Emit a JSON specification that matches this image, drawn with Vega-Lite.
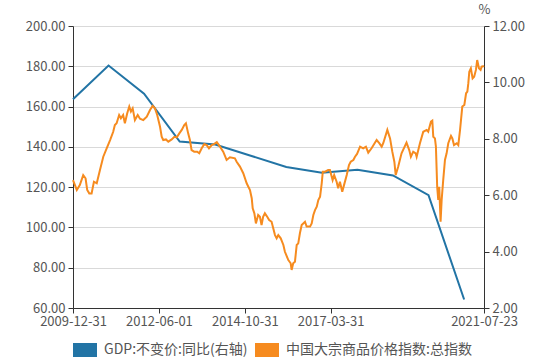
{
  "$schema": "https://vega.github.io/schema/vega-lite/v6.json",
  "width": 411,
  "height": 282,
  "autosize": {"type": "none"},
  "padding": {"left": 73, "top": 26, "right": 70, "bottom": 51},
  "background": "white",
  "config": {
    "view": {"stroke": null},
    "font": "Noto Sans CJK SC",
    "axis": {
      "labelFont": "Noto Sans CJK SC",
      "labelFontSize": 13,
      "labelColor": "#555555",
      "domainColor": "#333333",
      "tickColor": "#333333",
      "gridColor": "#d9d9d9",
      "tickSize": 5,
      "labelPadding": 3
    },
    "legend": {
      "labelFont": "Noto Sans CJK SC",
      "labelFontSize": 14,
      "labelColor": "#555555",
      "labelLimit": 400
    }
  },
  "datasets": {
    "gdp": [
      {"date": "2009-12-31", "gdp": 9.4},
      {"date": "2010-12-31", "gdp": 10.6},
      {"date": "2011-12-31", "gdp": 9.6},
      {"date": "2012-12-31", "gdp": 7.9},
      {"date": "2013-12-31", "gdp": 7.8},
      {"date": "2014-12-31", "gdp": 7.4},
      {"date": "2015-12-31", "gdp": 7.0},
      {"date": "2016-12-31", "gdp": 6.8},
      {"date": "2017-12-31", "gdp": 6.9},
      {"date": "2018-12-31", "gdp": 6.7},
      {"date": "2019-12-31", "gdp": 6.0},
      {"date": "2020-12-31", "gdp": 2.3}
    ],
    "cci": [
      {"date":"2009-12-31","v":123.5},
      {"date":"2010-02-08","v":118.6},
      {"date":"2010-03-11","v":121.0},
      {"date":"2010-04-15","v":126.0},
      {"date":"2010-05-09","v":124.4},
      {"date":"2010-05-26","v":118.6},
      {"date":"2010-06-16","v":116.9},
      {"date":"2010-07-10","v":116.9},
      {"date":"2010-08-03","v":122.7},
      {"date":"2010-09-01","v":121.9},
      {"date":"2010-10-04","v":128.5},
      {"date":"2010-11-07","v":135.1},
      {"date":"2010-12-12","v":139.3},
      {"date":"2011-01-16","v":143.4},
      {"date":"2011-02-17","v":147.5},
      {"date":"2011-03-06","v":150.8},
      {"date":"2011-03-24","v":151.7},
      {"date":"2011-04-19","v":155.8},
      {"date":"2011-05-07","v":154.2},
      {"date":"2011-05-30","v":155.8},
      {"date":"2011-06-17","v":151.7},
      {"date":"2011-07-11","v":156.7},
      {"date":"2011-08-01","v":160.0},
      {"date":"2011-08-18","v":157.5},
      {"date":"2011-09-05","v":159.1},
      {"date":"2011-09-28","v":153.3},
      {"date":"2011-10-27","v":155.8},
      {"date":"2011-11-19","v":154.0},
      {"date":"2011-12-23","v":153.3},
      {"date":"2012-01-28","v":155.0},
      {"date":"2012-03-01","v":158.3},
      {"date":"2012-03-28","v":160.3},
      {"date":"2012-04-21","v":159.1},
      {"date":"2012-05-14","v":155.8},
      {"date":"2012-06-12","v":150.0},
      {"date":"2012-06-29","v":145.0},
      {"date":"2012-07-15","v":143.4},
      {"date":"2012-08-12","v":143.7},
      {"date":"2012-09-05","v":142.6},
      {"date":"2012-10-10","v":143.7},
      {"date":"2012-11-06","v":145.0},
      {"date":"2012-12-01","v":144.7},
      {"date":"2012-12-27","v":146.7},
      {"date":"2013-01-21","v":148.4},
      {"date":"2013-02-16","v":150.8},
      {"date":"2013-03-05","v":151.7},
      {"date":"2013-03-28","v":146.7},
      {"date":"2013-04-15","v":143.4},
      {"date":"2013-05-02","v":138.4},
      {"date":"2013-05-29","v":137.6},
      {"date":"2013-06-29","v":137.6},
      {"date":"2013-07-20","v":136.8},
      {"date":"2013-08-14","v":139.3},
      {"date":"2013-09-10","v":141.4},
      {"date":"2013-10-04","v":140.9},
      {"date":"2013-10-28","v":139.3},
      {"date":"2013-11-25","v":140.9},
      {"date":"2013-12-18","v":141.4},
      {"date":"2014-01-16","v":142.3},
      {"date":"2014-02-18","v":140.1},
      {"date":"2014-03-23","v":137.6},
      {"date":"2014-04-27","v":133.5},
      {"date":"2014-05-31","v":134.8},
      {"date":"2014-07-21","v":134.3},
      {"date":"2014-08-08","v":132.6},
      {"date":"2014-09-11","v":130.2},
      {"date":"2014-10-15","v":126.9},
      {"date":"2014-11-19","v":121.9},
      {"date":"2014-12-23","v":118.6},
      {"date":"2015-01-10","v":114.5},
      {"date":"2015-01-20","v":109.5},
      {"date":"2015-02-06","v":107.0},
      {"date":"2015-02-22","v":102.0},
      {"date":"2015-03-17","v":106.2},
      {"date":"2015-04-04","v":105.3},
      {"date":"2015-04-21","v":101.2},
      {"date":"2015-05-07","v":105.3},
      {"date":"2015-05-25","v":107.0},
      {"date":"2015-06-18","v":105.3},
      {"date":"2015-07-08","v":103.7},
      {"date":"2015-08-02","v":102.8},
      {"date":"2015-09-06","v":96.2},
      {"date":"2015-09-23","v":94.6},
      {"date":"2015-10-10","v":96.2},
      {"date":"2015-11-04","v":94.6},
      {"date":"2015-12-01","v":91.3},
      {"date":"2015-12-17","v":87.9},
      {"date":"2016-01-21","v":83.8},
      {"date":"2016-02-14","v":82.2},
      {"date":"2016-02-24","v":78.9},
      {"date":"2016-03-11","v":82.2},
      {"date":"2016-03-29","v":83.0},
      {"date":"2016-04-16","v":91.3},
      {"date":"2016-05-02","v":92.1},
      {"date":"2016-05-19","v":97.1},
      {"date":"2016-06-06","v":101.2},
      {"date":"2016-07-10","v":102.8},
      {"date":"2016-07-27","v":100.4},
      {"date":"2016-08-31","v":100.4},
      {"date":"2016-09-17","v":102.0},
      {"date":"2016-10-04","v":106.2},
      {"date":"2016-10-21","v":108.6},
      {"date":"2016-11-08","v":110.3},
      {"date":"2016-11-24","v":113.6},
      {"date":"2016-12-12","v":115.3},
      {"date":"2016-12-29","v":121.9},
      {"date":"2017-01-09","v":127.7},
      {"date":"2017-02-02","v":127.7},
      {"date":"2017-03-05","v":128.5},
      {"date":"2017-03-23","v":128.5},
      {"date":"2017-04-20","v":123.5},
      {"date":"2017-05-06","v":126.0},
      {"date":"2017-05-31","v":122.7},
      {"date":"2017-06-16","v":119.4},
      {"date":"2017-07-04","v":122.7},
      {"date":"2017-07-28","v":117.7},
      {"date":"2017-08-15","v":121.0},
      {"date":"2017-09-12","v":126.0},
      {"date":"2017-10-05","v":131.0},
      {"date":"2017-10-23","v":132.6},
      {"date":"2017-11-19","v":133.5},
      {"date":"2017-12-06","v":135.1},
      {"date":"2017-12-27","v":136.5},
      {"date":"2018-01-27","v":140.1},
      {"date":"2018-02-28","v":139.3},
      {"date":"2018-03-28","v":140.1},
      {"date":"2018-04-21","v":137.1},
      {"date":"2018-05-25","v":139.3},
      {"date":"2018-07-16","v":143.4},
      {"date":"2018-08-12","v":141.8},
      {"date":"2018-09-06","v":140.1},
      {"date":"2018-09-22","v":141.8},
      {"date":"2018-11-03","v":148.4},
      {"date":"2018-12-01","v":144.2},
      {"date":"2018-12-24","v":137.6},
      {"date":"2019-01-14","v":132.6},
      {"date":"2019-01-28","v":126.0},
      {"date":"2019-02-23","v":130.2},
      {"date":"2019-03-29","v":136.8},
      {"date":"2019-05-19","v":142.1},
      {"date":"2019-06-16","v":138.4},
      {"date":"2019-07-03","v":135.1},
      {"date":"2019-07-27","v":137.6},
      {"date":"2019-08-21","v":136.8},
      {"date":"2019-08-31","v":135.1},
      {"date":"2019-10-04","v":141.8},
      {"date":"2019-11-07","v":147.5},
      {"date":"2019-12-12","v":148.4},
      {"date":"2019-12-28","v":147.5},
      {"date":"2020-01-25","v":152.5},
      {"date":"2020-02-08","v":153.0},
      {"date":"2020-02-18","v":145.0},
      {"date":"2020-03-06","v":144.2},
      {"date":"2020-03-16","v":140.1},
      {"date":"2020-03-29","v":120.2},
      {"date":"2020-04-09","v":113.6},
      {"date":"2020-04-19","v":120.2},
      {"date":"2020-05-03","v":102.8},
      {"date":"2020-05-14","v":113.6},
      {"date":"2020-05-30","v":123.5},
      {"date":"2020-06-17","v":133.5},
      {"date":"2020-07-04","v":136.8},
      {"date":"2020-07-21","v":141.8},
      {"date":"2020-08-18","v":145.4},
      {"date":"2020-09-01","v":144.2},
      {"date":"2020-09-18","v":140.9},
      {"date":"2020-10-16","v":141.8},
      {"date":"2020-11-01","v":140.9},
      {"date":"2020-11-19","v":148.4},
      {"date":"2020-12-12","v":160.0},
      {"date":"2021-01-02","v":160.8},
      {"date":"2021-01-20","v":166.6},
      {"date":"2021-02-02","v":167.4},
      {"date":"2021-02-12","v":171.6},
      {"date":"2021-02-22","v":177.3},
      {"date":"2021-03-10","v":179.0},
      {"date":"2021-03-28","v":174.0},
      {"date":"2021-04-13","v":174.8},
      {"date":"2021-05-01","v":178.2},
      {"date":"2021-05-14","v":183.1},
      {"date":"2021-06-01","v":179.0},
      {"date":"2021-06-18","v":178.2},
      {"date":"2021-06-29","v":179.8},
      {"date":"2021-07-15","v":180.0},
      {"date":"2021-07-23","v":180.2}
    ]
  },
  "encoding": {
    "x": {
      "field": "date",
      "type": "temporal",
      "title": null,
      "scale": {
        "type": "utc",
        "domain": [
          {"year": 2009, "month": 12, "date": 31, "utc": true},
          {"year": 2021, "month": 7, "date": 23, "utc": true}
        ]
      },
      "axis": {
        "values": [
          {"year": 2009, "month": 12, "date": 31, "utc": true},
          {"year": 2012, "month": 6, "date": 1, "utc": true},
          {"year": 2014, "month": 10, "date": 31, "utc": true},
          {"year": 2017, "month": 3, "date": 31, "utc": true},
          {"year": 2021, "month": 7, "date": 23, "utc": true}
        ],
        "format": "%Y-%m-%d",
        "grid": false,
        "labelOverlap": false,
        "labelFlush": false,
        "labelPadding": 2
      }
    },
    "color": {
      "scale": {
        "domain": ["GDP:不变价:同比(右轴)", "中国大宗商品价格指数:总指数"],
        "range": ["#2274a5", "#f68b1f"]
      },
      "legend": {
        "orient": "none",
        "legendX": -7,
        "legendY": 305,
        "direction": "horizontal",
        "title": null,
        "symbolType": "stroke",
        "symbolSize": 576,
        "symbolStrokeWidth": 14,
        "symbolOpacity": 1,
        "labelOffset": 0,
        "columnPadding": -23,
        "padding": 0
      }
    }
  },
  "layer": [
    {
      "data": {"name": "gdp"},
      "mark": {"type": "line", "strokeWidth": 2},
      "encoding": {
        "y": {
          "field": "gdp",
          "type": "quantitative",
          "title": "%",
          "scale": {"domain": [2, 12], "nice": false, "zero": false},
          "axis": {
            "orient": "right",
            "values": [2, 4, 6, 8, 10, 12],
            "format": ".2f",
            "grid": false,
            "titleAngle": 0,
            "titleX": 0,
            "titleY": -10,
            "titleAlign": "center",
            "titleBaseline": "bottom",
            "titleFontWeight": "normal",
            "titleFontSize": 13,
            "titleColor": "#555555",
            "titleFont": "Noto Sans CJK SC"
          }
        },
        "color": {"datum": "GDP:不变价:同比(右轴)"}
      }
    },
    {
      "data": {"name": "cci"},
      "mark": {"type": "line", "strokeWidth": 2},
      "encoding": {
        "y": {
          "field": "v",
          "type": "quantitative",
          "title": null,
          "scale": {"domain": [60, 200], "nice": false, "zero": false},
          "axis": {
            "orient": "left",
            "values": [60, 80, 100, 120, 140, 160, 180, 200],
            "format": ".2f",
            "grid": true
          }
        },
        "color": {"datum": "中国大宗商品价格指数:总指数"}
      }
    }
  ],
  "resolve": {"scale": {"y": "independent"}}
}
